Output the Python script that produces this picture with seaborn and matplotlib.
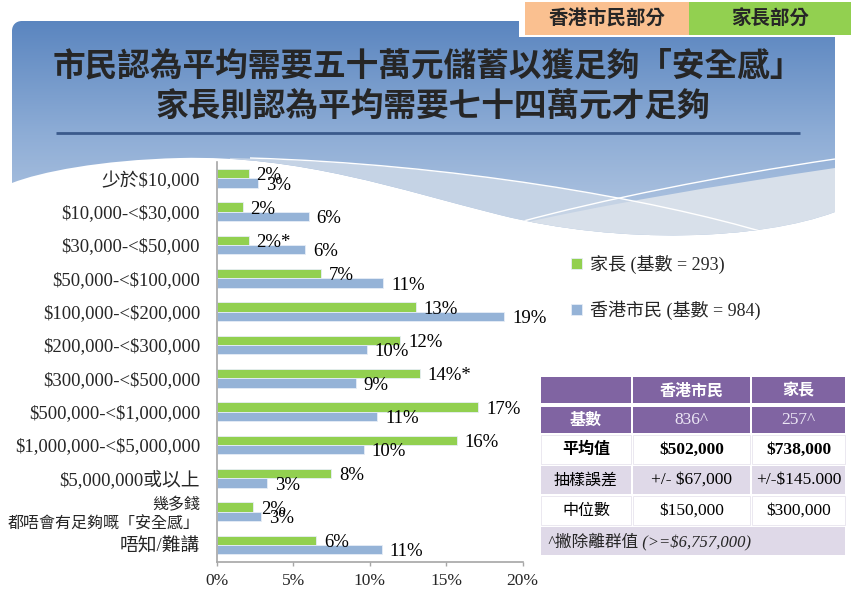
import numpy as np
import pandas as pd
import matplotlib
matplotlib.use('Agg')
import matplotlib.pyplot as plt
import seaborn as sns
from matplotlib.path import Path
from matplotlib.patches import PathPatch, Rectangle
from matplotlib.colors import LinearSegmentedColormap

sns.set_style('white')
SERIF = ['Liberation Serif', 'Noto Sans CJK TC']
CJK = ['Noto Sans CJK TC', 'DejaVu Sans']
plt.rcParams['font.family'] = SERIF
plt.rcParams['text.parse_math'] = False  # dollar signs are plain text here

# data
categories = ['少於$10,000', '$10,000-<$30,000', '$30,000-<$50,000', '$50,000-<$100,000',
              '$100,000-<$200,000', '$200,000-<$300,000', '$300,000-<$500,000',
              '$500,000-<$1,000,000', '$1,000,000-<$5,000,000', '$5,000,000或以上',
              '幾多錢\n都唔會有足夠嘅「安全感」', '唔知/難講']
parents = [2.1, 1.7, 2.1, 6.8, 13.0, 12.0, 13.3, 17.1, 15.7, 7.5, 2.4, 6.5]
citizens = [2.7, 6.0, 5.8, 10.9, 18.8, 9.8, 9.1, 10.5, 9.6, 3.3, 2.9, 10.8]
parent_labels = ['2%', '2%', '2%*', '7%', '13%', '12%', '14%*', '17%', '16%', '8%', '2%', '6%']
citizen_labels = ['3%', '6%', '6%', '11%', '19%', '10%', '9%', '11%', '10%', '3%', '3%', '11%']
series = ['家長', '香港市民']
legend_labels = ['家長 (基數 = 293)', '香港市民 (基數 = 984)']
xticks = [0, 5, 10, 15, 20]

title_lines = ['市民認為平均需要五十萬元儲蓄以獲足夠「安全感」', '家長則認為平均需要七十四萬元才足夠']
tabs = ['香港市民部分', '家長部分']

table_header = ['', '香港市民', '家長']
table_rows = [['基數', '836^', '257^'],
              ['平均值', '$502,000', '$738,000'],
              ['抽樣誤差', '+/- $67,000', '+/-$145.000'],
              ['中位數', '$150,000', '$300,000']]
table_note = '^撇除離群值 (>=$6,757,000)'

GREEN = '#92d050'
BLUE = '#95b3d7'
PURPLE = '#8064a2'
LAVENDER = '#dfd9e8'

df = pd.DataFrame({'類別': categories * 2,
                   '比例': parents + citizens,
                   '組別': [series[0]] * len(categories) + [series[1]] * len(categories)})

fig = plt.figure(figsize=(8.51, 6.04), dpi=100)

# background layer in pixel coordinates
bg = fig.add_axes([0, 0, 1, 1], zorder=0)
bg.set_xlim(0, 851)
bg.set_ylim(604, 0)
bg.axis('off')

M, L, C = Path.MOVETO, Path.LINETO, Path.CURVE4
shape = Path([(22, 21), (835, 21), (835, 212), (760, 240), (620, 245), (500, 215),
              (400, 190), (300, 155), (180, 158), (100, 160), (40, 172), (12, 183),
              (12, 31), (12, 25), (16, 21), (22, 21)],
             [M, L, L, C, C, C, C, C, C, C, C, C, L, C, C, C])
clip = PathPatch(shape, facecolor='none', edgecolor='none')
bg.add_patch(clip)
cmap = LinearSegmentedColormap.from_list('bgblue', ['#5a85bf', '#8eadd6', '#bccde4'])
grad = np.linspace(0, 1, 256).reshape(-1, 1)
im = bg.imshow(grad, extent=[10, 840, 250, 20], aspect='auto', cmap=cmap, zorder=1)
im.set_clip_path(clip)

band1 = PathPatch(Path([(230, 158), (450, 163), (650, 198), (775, 236), (850, 300), (200, 300), (230, 158)],
                       [M, C, C, C, L, L, L]), facecolor='#c5d3e5', edgecolor='none', zorder=2)
bg.add_patch(band1)
band1.set_clip_path(clip)
band2 = PathPatch(Path([(500, 228), (600, 205), (720, 185), (835, 168), (850, 300), (480, 300), (500, 228)],
                       [M, C, C, C, L, L, L]), facecolor='#d8e0ea', edgecolor='none', zorder=3)
bg.add_patch(band2)
band2.set_clip_path(clip)
for pts in [[(250, 158), (450, 164), (650, 198), (770, 234)],
            [(520, 222), (600, 200), (720, 176), (835, 159)]]:
    ln = PathPatch(Path(pts, [M, C, C, C]), facecolor='none', edgecolor='white', lw=1.0, zorder=4)
    bg.add_patch(ln)
    ln.set_clip_path(clip)

bg.plot([56, 800], [133, 133], color='#3a5a8c', lw=2.0, solid_capstyle='butt', zorder=5)
bg.text(428, 66, title_lines[0], fontsize=23.5, fontweight='bold', family=CJK, ha='center', va='center', zorder=6)
bg.text(433, 107, title_lines[1], fontsize=23.5, fontweight='bold', family=CJK, ha='center', va='center', zorder=6)

# tabs top right
bg.add_patch(Rectangle((519, 0), 332, 37, facecolor='white', edgecolor='none', zorder=5))
bg.add_patch(Rectangle((525, 2), 164, 33, facecolor='#fac090', edgecolor='none', zorder=6))
bg.add_patch(Rectangle((689, 2), 162, 33, facecolor=GREEN, edgecolor='none', zorder=6))
bg.text(607, 19, tabs[0], fontsize=14, fontweight='bold', family=CJK, ha='center', va='center', zorder=7)
bg.text(770, 19, tabs[1], fontsize=14, fontweight='bold', family=CJK, ha='center', va='center', zorder=7)

# summary table
cols = [(540.7, 631.3), (632.8, 750.3), (751.8, 845.3)]
rows = [(377.3, 403.3), (406.7, 433.3), (434.8, 464.0), (465.5, 494.3), (495.8, 525.0)]
row_colors = [PURPLE, PURPLE, 'white', LAVENDER, 'white']
cells = [table_header] + table_rows
for r, (y0, y1) in enumerate(rows):
    for c, (x0, x1) in enumerate(cols):
        bg.add_patch(Rectangle((x0, y0), x1 - x0, y1 - y0, facecolor=row_colors[r],
                               edgecolor='#e8e4ee' if row_colors[r] == 'white' else 'none', lw=0.6, zorder=5))
        txt = cells[r][c]
        if not txt:
            continue
        color = 'black'
        weight = 'normal'
        fam = SERIF
        size = 12.5
        if r == 0:
            color, weight, fam, size = 'white', 'bold', CJK, 11.5
        elif r == 1:
            color = 'white' if c == 0 else '#ece6f5'
            if c == 0:
                weight, fam, size = 'bold', CJK, 11.5
        elif r == 2:
            weight = 'bold'
            if c == 0:
                fam, size = CJK, 11.5
        elif c == 0:
            fam, size = CJK, 11.5
        bg.text((x0 + x1) / 2, (y0 + y1) / 2, txt, color=color, fontweight=weight, family=fam,
                fontsize=size, ha='center', va='center', zorder=6)
bg.add_patch(Rectangle((540.7, 526.5), 845.3 - 540.7, 28.5, facecolor=LAVENDER, edgecolor='none', zorder=5))
bg.text(548, 541, table_note, fontsize=12, style='italic', family=SERIF, ha='left', va='center', zorder=6)

# bar chart
ax = fig.add_axes([216.7 / 851, 1 - 561.7 / 604, 306 / 851, 400 / 604], zorder=1)
ax.set_facecolor('none')
sns.barplot(data=df, y='類別', x='比例', hue='組別', order=categories, hue_order=series,
            palette=[GREEN, BLUE], orient='h', width=0.56, saturation=1, ax=ax,
            edgecolor='#e6edf6', linewidth=0.6, errorbar=None)
ax.set_xlim(0, 20)
ax.set_ylim(len(categories) - 0.5, -0.5)
ax.set_xlabel('')
ax.set_ylabel('')

for cont, labs in zip(ax.containers, [parent_labels, citizen_labels]):
    for bar, lab in zip(cont, labs):
        ax.annotate(lab, xy=(bar.get_width(), bar.get_y() + bar.get_height() / 2),
                    xytext=(5.5, -1.5), textcoords='offset points', ha='left', va='center',
                    fontsize=13.5, family=SERIF, color='black')

ax.set_xticks(xticks)
ax.set_xticklabels([f'{v}%' for v in xticks], fontsize=12.5)
ax.set_yticks(range(len(categories)))
ax.set_yticklabels(categories, fontsize=13.5)
for t in ax.get_yticklabels():
    if '\n' in t.get_text():
        t.set_fontsize(11.5)
        t.set_multialignment('right')
        t.set_linespacing(1.25)
ax.set_yticks(np.arange(-0.5, len(categories)), minor=True)
ax.tick_params(axis='y', which='major', length=0, pad=12)
ax.tick_params(axis='y', which='minor', length=4, color='#a6a6a6', width=1)
ax.tick_params(axis='x', which='major', length=3, color='#a6a6a6', width=1, pad=5, bottom=True)
for s in ['top', 'right']:
    ax.spines[s].set_visible(False)
for s in ['left', 'bottom']:
    ax.spines[s].set_color('#a6a6a6')
    ax.spines[s].set_linewidth(1.2)

handles, _ = ax.get_legend_handles_labels()
ax.legend(handles, legend_labels, loc='upper left', bbox_to_anchor=(571 / 851, 1 - 255 / 604),
          bbox_transform=fig.transFigure, frameon=False, handlelength=0.6, handleheight=0.6,
          handletextpad=0.45, labelspacing=1.45, borderpad=0, borderaxespad=0,
          prop={'family': SERIF, 'size': 13})

fig.savefig('out.png', dpi=100)
